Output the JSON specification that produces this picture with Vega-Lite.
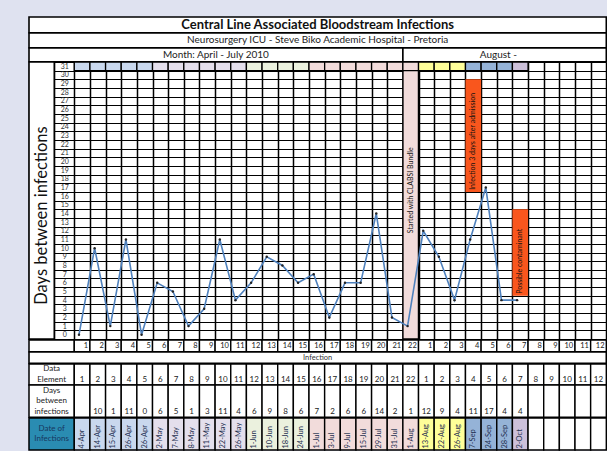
{
  "$schema": "https://vega.github.io/schema/vega-lite/v6.json",
  "background": "#dfe2f0",
  "padding": {"left": 28, "top": 16, "right": 0, "bottom": 0},
  "spacing": 0,
  "bounds": "flush",
  "config": {
    "font": "Lato",
    "view": {"stroke": null, "fill": "white"},
    "text": {"color": "#222222"}
  },
  "datasets": {
    "table": [
      {"col": 1, "n": 1, "days": 0, "date": "4-Apr", "grp": "Apr"},
      {"col": 2, "n": 2, "days": 10, "date": "14-Apr", "grp": "Apr"},
      {"col": 3, "n": 3, "days": 1, "date": "15-Apr", "grp": "Apr"},
      {"col": 4, "n": 4, "days": 11, "date": "26-Apr", "grp": "Apr"},
      {"col": 5, "n": 5, "days": 0, "date": "26-Apr", "grp": "Apr"},
      {"col": 6, "n": 6, "days": 6, "date": "2-May", "grp": "May"},
      {"col": 7, "n": 7, "days": 5, "date": "7-May", "grp": "May"},
      {"col": 8, "n": 8, "days": 1, "date": "8-May", "grp": "May"},
      {"col": 9, "n": 9, "days": 3, "date": "11-May", "grp": "May"},
      {"col": 10, "n": 10, "days": 11, "date": "22-May", "grp": "May"},
      {"col": 11, "n": 11, "days": 4, "date": "26-May", "grp": "May"},
      {"col": 12, "n": 12, "days": 6, "date": "1-Jun", "grp": "Jun"},
      {"col": 13, "n": 13, "days": 9, "date": "10-Jun", "grp": "Jun"},
      {"col": 14, "n": 14, "days": 8, "date": "18-Jun", "grp": "Jun"},
      {"col": 15, "n": 15, "days": 6, "date": "24-Jun", "grp": "Jun"},
      {"col": 16, "n": 16, "days": 7, "date": "1-Jul", "grp": "Jul"},
      {"col": 17, "n": 17, "days": 2, "date": "3-Jul", "grp": "Jul"},
      {"col": 18, "n": 18, "days": 6, "date": "9-Jul", "grp": "Jul"},
      {"col": 19, "n": 19, "days": 6, "date": "15-Jul", "grp": "Jul"},
      {"col": 20, "n": 20, "days": 14, "date": "29-Jul", "grp": "Jul"},
      {"col": 21, "n": 21, "days": 2, "date": "31-Jul", "grp": "Jul"},
      {"col": 22, "n": 22, "days": 1, "date": "1-Aug", "grp": "Jul"},
      {"col": 23, "n": 1, "days": 12, "date": "13-Aug", "grp": "Aug"},
      {"col": 24, "n": 2, "days": 9, "date": "22-Aug", "grp": "Aug"},
      {"col": 25, "n": 3, "days": 4, "date": "26-Aug", "grp": "Aug"},
      {"col": 26, "n": 4, "days": 11, "date": "7-Sep", "grp": "Sep"},
      {"col": 27, "n": 5, "days": 17, "date": "24-Sep", "grp": "Sep"},
      {"col": 28, "n": 6, "days": 4, "date": "28-Sep", "grp": "Sep"},
      {"col": 29, "n": 7, "days": 4, "date": "2-Oct", "grp": "Oct"},
      {"col": 30, "n": 8, "days": null, "date": null, "grp": null},
      {"col": 31, "n": 9, "days": null, "date": null, "grp": null},
      {"col": 32, "n": 10, "days": null, "date": null, "grp": null},
      {"col": 33, "n": 11, "days": null, "date": null, "grp": null},
      {"col": 34, "n": 12, "days": null, "date": null, "grp": null}
    ],
    "notes": [
      {"col": 22, "kind": "bundle", "text": "Started with CLABSI Bundle", "from": 12, "to": 22},
      {"col": 26, "kind": "flag", "text": "Infection 3 days after admission", "from": 17, "to": 29},
      {"col": 29, "kind": "flag", "text": "Possible contaminant", "from": 5, "to": 14}
    ],
    "headers": [
      {"row": "title", "t": "Central Line Associated Bloodstream Infections"},
      {"row": "sub", "t": "Neurosurgery ICU - Steve Biko Academic Hospital - Pretoria"},
      {"row": "ytitle", "t": "Days between infections"},
      {"row": "xlab", "t": ""},
      {"row": "infection", "t": "Infection"},
      {"row": "de", "t": "Data\nElement"},
      {"row": "days", "t": "Days\nbetween\ninfections"},
      {"row": "date", "t": "Date of\nInfections"}
    ],
    "months": [
      {"t": "Month: April - July 2010", "part": "Apr-Jul"},
      {"t": "August -", "part": "Aug"}
    ]
  },
  "vconcat": [
    {
      "width": 577.3, "height": 15.7,
      "data": {"name": "headers"},
      "transform": [{"filter": "datum.row === 'title'"}],
      "layer": [
        {"mark": {"type": "rect", "fill": "white", "stroke": "black", "strokeWidth": 1.6},
         "encoding": {"x": {"datum": -2.894, "type": "quantitative", "scale": {"domain": [-2.894, 34], "nice": false, "zero": false}, "axis": null}, "x2": {"datum": 34}}},
        {"mark": {"type": "text", "fontWeight": "bold", "fontSize": 13, "color": "#111111"},
         "encoding": {"text": {"field": "t", "type": "nominal"}}}
      ]
    },
    {
      "width": 577.3, "height": 14.7,
      "data": {"name": "headers"},
      "transform": [{"filter": "datum.row === 'sub'"}],
      "layer": [
        {"mark": {"type": "rect", "fill": "white", "stroke": "black", "strokeWidth": 1.6},
         "encoding": {"x": {"datum": -2.894, "type": "quantitative", "scale": {"domain": [-2.894, 34], "nice": false, "zero": false}, "axis": null}, "x2": {"datum": 34}}},
        {"mark": {"type": "text", "fontSize": 10, "color": "#222222"},
         "encoding": {"text": {"field": "t", "type": "nominal"}}}
      ]
    },
    {
      "width": 577.3, "height": 13.8,
      "data": {"name": "months"},
      "layer": [
        {"transform": [{"filter": "datum.part === 'Apr-Jul'"}],
         "layer": [
           {"mark": {"type": "rect", "fill": "white", "stroke": "black", "strokeWidth": 1.6},
            "encoding": {"x": {"datum": -2.894, "type": "quantitative", "scale": {"domain": [-2.894, 34], "nice": false, "zero": false}, "axis": null}, "x2": {"datum": 21}}},
           {"mark": {"type": "text", "fontSize": 10, "color": "#222222"},
            "encoding": {"x": {"datum": 9.05, "type": "quantitative"}, "text": {"field": "t", "type": "nominal"}}}
         ]},
        {"transform": [{"filter": "datum.part === 'Aug'"}],
         "layer": [
           {"mark": {"type": "rect", "fill": "white", "stroke": "black", "strokeWidth": 1.6},
            "encoding": {"x": {"datum": 21, "type": "quantitative"}, "x2": {"datum": 34}}},
           {"mark": {"type": "text", "fontSize": 10, "color": "#222222"},
            "encoding": {"x": {"datum": 27.1, "type": "quantitative"}, "text": {"field": "t", "type": "nominal"}}}
         ]}
      ]
    },
    {
      "width": 577.3, "height": 277.1,
      "layer": [
        {
          "data": {"name": "headers"},
          "transform": [{"filter": "datum.row === 'ytitle'"}],
          "mark": {"type": "rect", "fill": "white", "stroke": "black", "strokeWidth": 1.6},
          "encoding": {
            "x": {"datum": -2.894, "type": "quantitative", "scale": {"domain": [-2.894, 34], "nice": false, "zero": false},
              "axis": {"values": [-2.894,-1.278,0,1,2,3,4,5,6,7,8,9,10,11,12,13,14,15,16,17,18,19,20,21,22,23,24,25,26,27,28,29,30,31,32,33,34], "grid": true, "gridColor": "black", "gridWidth": 1.5, "labels": false, "ticks": false, "domain": false, "title": null}},
            "x2": {"datum": -1.278}
          }
        },
        {
          "data": {"name": "headers"},
          "transform": [{"filter": "datum.row === 'ytitle'"}],
          "mark": {"type": "text", "fontSize": 16.5, "angle": 270, "dx": -15, "color": "#111111"},
          "encoding": {
            "x": {"datum": -2.086, "type": "quantitative",
              "axis": {"values": [-2.894,-1.278,0,1,2,3,4,5,6,7,8,9,10,11,12,13,14,15,16,17,18,19,20,21,22,23,24,25,26,27,28,29,30,31,32,33,34], "grid": true, "gridColor": "black", "gridWidth": 1.5, "labels": false, "ticks": false, "domain": false, "title": null}},
            "text": {"field": "t", "type": "nominal"}
          }
        },
        {
          "data": {"name": "notes"},
          "transform": [{"filter": "datum.kind === 'bundle'"}],
          "mark": {"type": "rect", "fill": "#f2dcdb", "stroke": "black", "strokeWidth": 1.5, "xOffset": -15.647},
          "encoding": {
            "x": {"field": "col", "type": "quantitative",
              "axis": {"values": [-2.894,-1.278,0,1,2,3,4,5,6,7,8,9,10,11,12,13,14,15,16,17,18,19,20,21,22,23,24,25,26,27,28,29,30,31,32,33,34], "grid": true, "gridColor": "black", "gridWidth": 1.5, "labels": false, "ticks": false, "domain": false, "title": null}},
            "x2": {"field": "col"}
          }
        },
        {
          "data": {"name": "table"},
          "transform": [{"filter": "isValid(datum.grp)"}],
          "mark": {"type": "rect", "stroke": "black", "strokeWidth": 1.3, "xOffset": -15.647},
          "encoding": {
            "x": {"field": "col", "type": "quantitative",
              "axis": {"values": [-2.894,-1.278,0,1,2,3,4,5,6,7,8,9,10,11,12,13,14,15,16,17,18,19,20,21,22,23,24,25,26,27,28,29,30,31,32,33,34], "grid": true, "gridColor": "black", "gridWidth": 1.5, "labels": false, "ticks": false, "domain": false, "title": null}},
            "x2": {"field": "col"},
            "y": {"datum": 31.5, "type": "quantitative",
              "scale": {"domain": [-0.5, 31.5], "nice": false, "zero": false},
              "axis": {"values": [-0.5,0.5,1.5,2.5,3.5,4.5,5.5,6.5,7.5,8.5,9.5,10.5,11.5,12.5,13.5,14.5,15.5,16.5,17.5,18.5,19.5,20.5,21.5,22.5,23.5,24.5,25.5,26.5,27.5,28.5,29.5,30.5,31.5],
                "grid": true, "gridColor": "black", "gridWidth": 1.2, "ticks": false, "tickSize": 0, "domain": false, "title": null,
                "labelExpr": "datum.value < 31 ? '' + (datum.value + 0.5) : ''",
                "labelOffset": -4.33, "labelPadding": -35.3, "labelAlign": "center",
                "labelFontSize": 7, "labelColor": "#333333", "labelOverlap": false, "labelFlush": false, "labelBound": false}},
            "y2": {"datum": 30.5},
            "fill": {"field": "grp", "type": "nominal", "legend": null,
              "scale": {"domain": ["Apr", "May", "Jun", "Jul", "Aug", "Sep", "Oct"], "range": ["#c9d8ee", "#e4dfec", "#ebf1de", "#f2dcdb", "#ffff99", "#95b3d7", "#ccc0da"]}}
          }
        },
        {
          "data": {"name": "notes"},
          "transform": [{"filter": "datum.kind === 'flag'"}],
          "mark": {"type": "rect", "fill": "#f9561d", "xOffset": -15.647, "yOffset": -4.33, "y2Offset": 4.33},
          "encoding": {
            "x": {"field": "col", "type": "quantitative",
              "axis": {"values": [-2.894,-1.278,0,1,2,3,4,5,6,7,8,9,10,11,12,13,14,15,16,17,18,19,20,21,22,23,24,25,26,27,28,29,30,31,32,33,34], "grid": true, "gridColor": "black", "gridWidth": 1.5, "labels": false, "ticks": false, "domain": false, "title": null}},
            "x2": {"field": "col"},
            "y": {"field": "to", "type": "quantitative",
              "axis": {"values": [-0.5,0.5,1.5,2.5,3.5,4.5,5.5,6.5,7.5,8.5,9.5,10.5,11.5,12.5,13.5,14.5,15.5,16.5,17.5,18.5,19.5,20.5,21.5,22.5,23.5,24.5,25.5,26.5,27.5,28.5,29.5,30.5,31.5],
                "grid": true, "gridColor": "black", "gridWidth": 1.2, "ticks": false, "tickSize": 0, "domain": false, "title": null,
                "labelExpr": "datum.value < 31 ? '' + (datum.value + 0.5) : ''",
                "labelOffset": -4.33, "labelPadding": -35.3, "labelAlign": "center",
                "labelFontSize": 7, "labelColor": "#333333", "labelOverlap": false, "labelFlush": false, "labelBound": false}},
            "y2": {"field": "from"}
          }
        },
        {
          "data": {"name": "notes"},
          "mark": {"type": "text", "angle": 270, "align": "left", "baseline": "middle", "dx": -2.3, "xOffset": -7.82, "fontSize": 7, "color": "#111111"},
          "encoding": {
            "x": {"field": "col", "type": "quantitative",
              "axis": {"values": [-2.894,-1.278,0,1,2,3,4,5,6,7,8,9,10,11,12,13,14,15,16,17,18,19,20,21,22,23,24,25,26,27,28,29,30,31,32,33,34], "grid": true, "gridColor": "black", "gridWidth": 1.5, "labels": false, "ticks": false, "domain": false, "title": null}},
            "y": {"field": "from", "type": "quantitative",
              "axis": {"values": [-0.5,0.5,1.5,2.5,3.5,4.5,5.5,6.5,7.5,8.5,9.5,10.5,11.5,12.5,13.5,14.5,15.5,16.5,17.5,18.5,19.5,20.5,21.5,22.5,23.5,24.5,25.5,26.5,27.5,28.5,29.5,30.5,31.5],
                "grid": true, "gridColor": "black", "gridWidth": 1.2, "ticks": false, "tickSize": 0, "domain": false, "title": null,
                "labelExpr": "datum.value < 31 ? '' + (datum.value + 0.5) : ''",
                "labelOffset": -4.33, "labelPadding": -35.3, "labelAlign": "center",
                "labelFontSize": 7, "labelColor": "#333333", "labelOverlap": false, "labelFlush": false, "labelBound": false}},
            "text": {"field": "text", "type": "nominal"}
          }
        },
        {
          "data": {"name": "table"},
          "transform": [{"filter": "isValid(datum.days)"}],
          "mark": {"type": "line", "color": "#4f81bd", "strokeWidth": 1.6, "xOffset": -10.95},
          "encoding": {
            "x": {"field": "col", "type": "quantitative",
              "axis": {"values": [-2.894,-1.278,0,1,2,3,4,5,6,7,8,9,10,11,12,13,14,15,16,17,18,19,20,21,22,23,24,25,26,27,28,29,30,31,32,33,34], "grid": true, "gridColor": "black", "gridWidth": 1.5, "labels": false, "ticks": false, "domain": false, "title": null}},
            "y": {"field": "days", "type": "quantitative",
              "axis": {"values": [-0.5,0.5,1.5,2.5,3.5,4.5,5.5,6.5,7.5,8.5,9.5,10.5,11.5,12.5,13.5,14.5,15.5,16.5,17.5,18.5,19.5,20.5,21.5,22.5,23.5,24.5,25.5,26.5,27.5,28.5,29.5,30.5,31.5],
                "grid": true, "gridColor": "black", "gridWidth": 1.2, "ticks": false, "tickSize": 0, "domain": false, "title": null,
                "labelExpr": "datum.value < 31 ? '' + (datum.value + 0.5) : ''",
                "labelOffset": -4.33, "labelPadding": -35.3, "labelAlign": "center",
                "labelFontSize": 7, "labelColor": "#333333", "labelOverlap": false, "labelFlush": false, "labelBound": false}}
          }
        },
        {
          "data": {"name": "table"},
          "transform": [{"filter": "isValid(datum.days)"}],
          "mark": {"type": "point", "filled": true, "size": 6, "color": "#222222", "opacity": 1, "xOffset": -10.95},
          "encoding": {
            "x": {"field": "col", "type": "quantitative",
              "axis": {"values": [-2.894,-1.278,0,1,2,3,4,5,6,7,8,9,10,11,12,13,14,15,16,17,18,19,20,21,22,23,24,25,26,27,28,29,30,31,32,33,34], "grid": true, "gridColor": "black", "gridWidth": 1.5, "labels": false, "ticks": false, "domain": false, "title": null}},
            "y": {"field": "days", "type": "quantitative",
              "axis": {"values": [-0.5,0.5,1.5,2.5,3.5,4.5,5.5,6.5,7.5,8.5,9.5,10.5,11.5,12.5,13.5,14.5,15.5,16.5,17.5,18.5,19.5,20.5,21.5,22.5,23.5,24.5,25.5,26.5,27.5,28.5,29.5,30.5,31.5],
                "grid": true, "gridColor": "black", "gridWidth": 1.2, "ticks": false, "tickSize": 0, "domain": false, "title": null,
                "labelExpr": "datum.value < 31 ? '' + (datum.value + 0.5) : ''",
                "labelOffset": -4.33, "labelPadding": -35.3, "labelAlign": "center",
                "labelFontSize": 7, "labelColor": "#333333", "labelOverlap": false, "labelFlush": false, "labelBound": false}}
          }
        }
      ]
    },
    {
      "width": 577.3, "height": 11.7,
      "layer": [
        {"data": {"name": "headers"}, "transform": [{"filter": "datum.row === 'xlab'"}],
         "mark": {"type": "rect", "fill": "white", "stroke": "black", "strokeWidth": 1.5},
         "encoding": {"x": {"datum": -2.894, "type": "quantitative", "scale": {"domain": [-2.894, 34], "nice": false, "zero": false}, "axis": null}, "x2": {"datum": 0}}},
        {"data": {"name": "table"},
         "mark": {"type": "rect", "fill": "white", "stroke": "black", "strokeWidth": 1.4, "xOffset": -15.647},
         "encoding": {"x": {"field": "col", "type": "quantitative", "axis": null}, "x2": {"field": "col"}}},
        {"data": {"name": "table"},
         "mark": {"type": "text", "align": "right", "fontSize": 7.5, "xOffset": -1.8, "color": "#222222"},
         "encoding": {"x": {"field": "col", "type": "quantitative", "axis": null}, "text": {"field": "n", "type": "nominal"}}}
      ]
    },
    {
      "width": 577.3, "height": 11.4,
      "data": {"name": "headers"},
      "transform": [{"filter": "datum.row === 'infection'"}],
      "layer": [
        {"mark": {"type": "rect", "fill": "white", "stroke": "black", "strokeWidth": 1.6},
         "encoding": {"x": {"datum": -2.894, "type": "quantitative", "scale": {"domain": [-2.894, 34], "nice": false, "zero": false}, "axis": null}, "x2": {"datum": 34}}},
        {"mark": {"type": "text", "fontSize": 7.5, "color": "#333333"},
         "encoding": {"text": {"field": "t", "type": "nominal"}}}
      ]
    },
    {
      "width": 577.3, "height": 21,
      "layer": [
        {"data": {"name": "headers"}, "transform": [{"filter": "datum.row === 'de'"}],
         "mark": {"type": "rect", "fill": "white", "stroke": "black", "strokeWidth": 1.5},
         "encoding": {"x": {"datum": -2.894, "type": "quantitative", "scale": {"domain": [-2.894, 34], "nice": false, "zero": false}, "axis": null}, "x2": {"datum": 0}}},
        {"data": {"name": "headers"}, "transform": [{"filter": "datum.row === 'de'"}],
         "mark": {"type": "text", "lineBreak": "\n", "fontSize": 8, "lineHeight": 10.5, "dy": -5.25, "color": "#222222"},
         "encoding": {"x": {"datum": -1.447, "type": "quantitative", "axis": null}, "text": {"field": "t", "type": "nominal"}}},
        {"data": {"name": "table"},
         "mark": {"type": "rect", "fill": "white", "stroke": "black", "strokeWidth": 1.4, "xOffset": -15.647},
         "encoding": {"x": {"field": "col", "type": "quantitative", "axis": null}, "x2": {"field": "col"}}},
        {"data": {"name": "table"},
         "mark": {"type": "text", "fontSize": 8, "dy": 5.25, "xOffset": -7.82, "color": "#222222"},
         "encoding": {"x": {"field": "col", "type": "quantitative", "axis": null}, "text": {"field": "n", "type": "nominal"}}}
      ]
    },
    {
      "width": 577.3, "height": 32.3,
      "layer": [
        {"data": {"name": "headers"}, "transform": [{"filter": "datum.row === 'days'"}],
         "mark": {"type": "rect", "fill": "white", "stroke": "black", "strokeWidth": 1.5},
         "encoding": {"x": {"datum": -2.894, "type": "quantitative", "scale": {"domain": [-2.894, 34], "nice": false, "zero": false}, "axis": null}, "x2": {"datum": 0}}},
        {"data": {"name": "headers"}, "transform": [{"filter": "datum.row === 'days'"}],
         "mark": {"type": "text", "lineBreak": "\n", "fontSize": 8, "lineHeight": 10.5, "dy": -10.5, "color": "#222222"},
         "encoding": {"x": {"datum": -1.447, "type": "quantitative", "axis": null}, "text": {"field": "t", "type": "nominal"}}},
        {"data": {"name": "table"},
         "mark": {"type": "rect", "fill": "white", "stroke": "black", "strokeWidth": 1.4, "xOffset": -15.647},
         "encoding": {"x": {"field": "col", "type": "quantitative", "axis": null}, "x2": {"field": "col"}}},
        {"data": {"name": "table"},
         "transform": [{"filter": "isValid(datum.days) && datum.col > 1"}],
         "mark": {"type": "text", "fontSize": 8, "dy": 10.5, "xOffset": -7.82, "color": "#222222"},
         "encoding": {"x": {"field": "col", "type": "quantitative", "axis": null}, "text": {"field": "days", "type": "nominal"}}}
      ]
    },
    {
      "width": 577.3, "height": 32,
      "layer": [
        {"data": {"name": "headers"}, "transform": [{"filter": "datum.row === 'date'"}],
         "mark": {"type": "rect", "fill": "#2a8cb2", "stroke": "black", "strokeWidth": 1.5},
         "encoding": {"x": {"datum": -2.894, "type": "quantitative", "scale": {"domain": [-2.894, 34], "nice": false, "zero": false}, "axis": null}, "x2": {"datum": 0}}},
        {"data": {"name": "headers"}, "transform": [{"filter": "datum.row === 'date'"}],
         "mark": {"type": "text", "lineBreak": "\n", "fontSize": 8, "lineHeight": 10.5, "dy": -5.25, "color": "#17375e"},
         "encoding": {"x": {"datum": -1.447, "type": "quantitative", "axis": null}, "text": {"field": "t", "type": "nominal"}}},
        {"data": {"name": "table"},
         "mark": {"type": "rect", "stroke": "black", "strokeWidth": 1.4, "xOffset": -15.647},
         "encoding": {
           "x": {"field": "col", "type": "quantitative", "axis": null}, "x2": {"field": "col"},
           "fill": {"condition": {"test": "!isValid(datum.grp)", "value": "white"}, "field": "grp", "type": "nominal", "legend": null,
             "scale": {"domain": ["Apr", "May", "Jun", "Jul", "Aug", "Sep", "Oct"], "range": ["#d3e0f1", "#e4dfec", "#ebf1de", "#f2dcdb", "#ffff99", "#95b3d7", "#ccc0da"]}}
         }},
        {"data": {"name": "table"},
         "transform": [{"filter": "isValid(datum.date)"}],
         "mark": {"type": "text", "angle": 270, "align": "left", "baseline": "middle", "dx": -14.5, "xOffset": -7.82, "fontSize": 7.5, "color": "#1f3050"},
         "encoding": {"x": {"field": "col", "type": "quantitative", "axis": null}, "text": {"field": "date", "type": "nominal"}}}
      ]
    }
  ]
}
